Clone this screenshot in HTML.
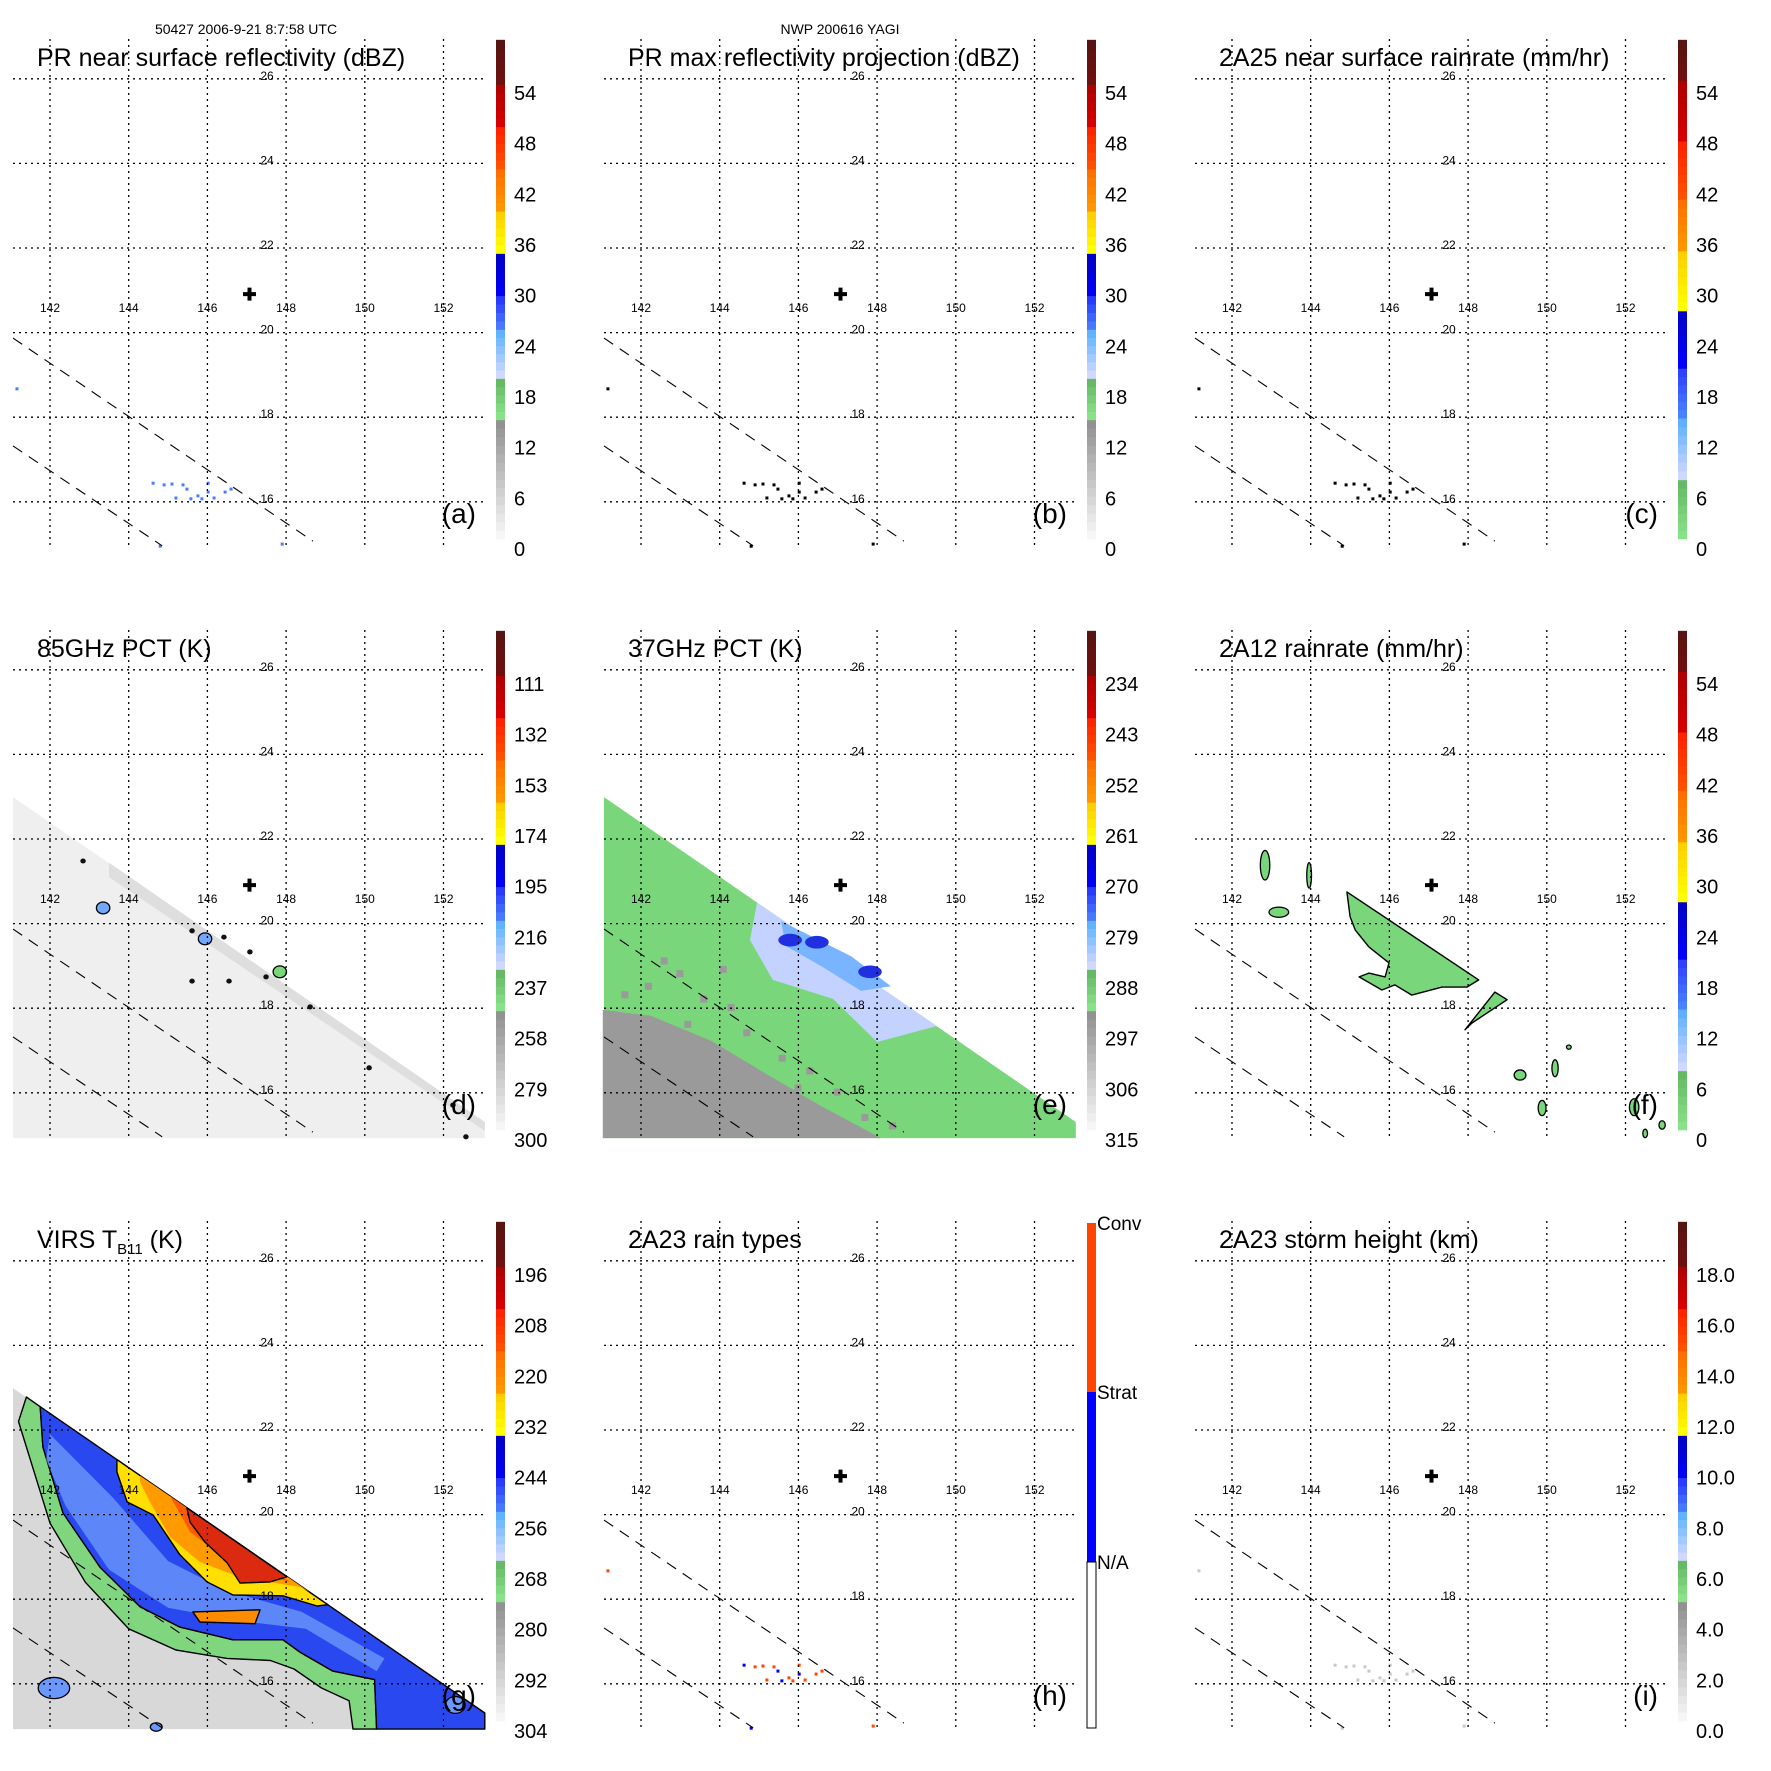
<!DOCTYPE html>
<html><head><meta charset="utf-8">
<style>
html,body{margin:0;padding:0;background:#fff;}
svg{display:block;font-family:"Liberation Sans",Arial,sans-serif;}
</style></head>
<body>
<svg id="fig" width="1771" height="1771" viewBox="0 0 1771 1771" xmlns="http://www.w3.org/2000/svg">
<rect x="0" y="0" width="1771" height="1771" fill="#fff"/>
<text x="246" y="34" font-size="14" text-anchor="middle">50427 2006-9-21 8:7:58 UTC</text>
<text x="840" y="34" font-size="14" text-anchor="middle">NWP 200616 YAGI</text>
</svg>
<script>
// ---- axis tick data ----
const lonTicks = [142,144,146,148,150,152];
const latTicks = [26,24,22,20,18,16];
const stormCenter = [147.07, 20.91];
// swath dashed lines [lon1,lat1,lon2,lat2]
const swathLine1 = [141.06,19.87,148.68,15.07];
const swathLine2 = [141.06,17.32,144.85,14.96];
// microwave swath boundary polygon (lon,lat)
const swathPoly = [[141.06,22.99],[153.05,15.31],[153.05,14.93],[141.06,14.93]];
// colorbar tick positions (value units) and labels
const cbTickPos = [54,48,42,36,30,24,18,12,6,0];
const cbLabelsA = ['54','48','42','36','30','24','18','12','6','0'];
const cbLabelsD = ['111','132','153','174','195','216','237','258','279','300'];
const cbLabelsE = ['234','243','252','261','270','279','288','297','306','315'];
const cbLabelsG = ['196','208','220','232','244','256','268','280','292','304'];
const cbLabelsI = ['18.0','16.0','14.0','12.0','10.0','8.0','6.0','4.0','2.0','0.0'];
const rainTypeLabels = ['Conv','Strat','N/A'];
const panelTitles = ['PR near surface reflectivity (dBZ)','PR max reflectivity projection (dBZ)','2A25 near surface rainrate (mm/hr)','85GHz PCT (K)','37GHz PCT (K)','2A12 rainrate (mm/hr)','VIRS','2A23 rain types','2A23 storm height (km)'];
const panelLetters = ['(a)','(b)','(c)','(d)','(e)','(f)','(g)','(h)','(i)'];
// PR rain pixels (lon,lat)
const prRainPix = [[144.62,16.44],[144.90,16.40],[145.10,16.42],[145.38,16.40],[145.48,16.30],[145.20,16.09],[145.76,16.14],[146.02,16.44],[146.02,16.23],[146.17,16.09],[146.45,16.23],[146.60,16.30],[145.58,16.07],[145.86,16.07],[141.16,18.67],[147.90,15.00],[144.80,14.95]];
// 85GHz cold spots (lon,lat)
const pct85Spots = [[142.84,21.48],[143.35,20.37],[145.61,19.83],[145.94,19.64],[146.42,19.68],[147.08,19.33],[147.84,18.86],[147.49,18.74],[145.61,18.64],[146.55,18.64],[148.61,18.03],[150.11,16.59],[152.24,15.71],[152.57,14.96]];
// 37GHz regions
const pct37Warm = [[141.03,17.96],[142.25,17.82],[143.78,17.23],[145.05,16.52],[146.57,15.69],[148.10,14.93],[141.03,14.93]];
const pct37Light = [[144.95,20.50],[149.52,17.58],[148.0,17.20],[146.88,18.22],[145.35,18.67],[144.77,19.61]];
const pct37Mid = [[145.56,20.06],[147.34,19.23],[148.35,18.52],[147.59,18.41],[146.57,19.00],[145.68,19.47]];
const pct37Cold = [[145.79,19.61],[146.47,19.56],[147.82,18.86]];
const pct37Speck = [[142.1,18.6],[142.9,18.9],[143.5,18.3],[144.2,18.1],[141.5,18.4],[143.1,17.7],[144.6,17.5],[145.5,16.9],[146.2,16.6],[146.9,16.1],[147.6,15.5],[148.3,15.3],[145.9,16.2],[147.1,15.2],[142.5,19.2],[144.0,19.0]];
// 2A12 rain areas
const rr12Main = [[144.92,20.75],[148.27,18.67],[147.97,18.50],[147.34,18.50],[146.57,18.31],[146.14,18.55],[145.81,18.43],[145.23,18.74],[145.48,18.83],[145.89,18.74],[145.99,19.07],[145.48,19.45],[145.13,19.85],[145.0,20.16]];
const rr12Band = [[147.92,17.49],[148.68,18.38],[148.99,18.20],[148.10,17.65]];
// blobs: lon, lat, half-width (deg lon), half-height (deg lat)
const rr12Blobs = [[142.84,21.38,0.12,0.35],[143.19,20.27,0.25,0.12],[143.96,21.14,0.06,0.3],[149.32,16.42,0.15,0.12],[150.21,16.58,0.08,0.2],[149.88,15.64,0.1,0.18],[152.22,15.66,0.12,0.2],[152.50,15.04,0.06,0.1],[152.93,15.24,0.08,0.1],[150.56,17.08,0.06,0.05]];
// VIRS TB11 regions
const virsBlue = [[141.75,22.55],[143.70,21.30],[149.06,17.87],[153.05,15.31],[153.05,14.93],[150.30,14.93],[150.25,16.1],[149.19,16.30],[148.35,16.75],[147.92,17.04],[146.65,17.04],[145.30,17.34],[144.29,17.82],[143.27,18.76],[142.33,20.04],[141.82,21.60]];
const virsGreen = [[141.4,22.78],[141.75,22.55],[141.82,21.60],[142.33,20.04],[143.27,18.76],[144.29,17.82],[145.30,17.34],[146.65,17.04],[147.92,17.04],[148.35,16.75],[149.19,16.30],[150.25,16.1],[150.30,14.93],[149.7,14.93],[149.6,15.6],[148.9,15.9],[148.2,16.35],[147.6,16.55],[146.5,16.6],[145.2,16.8],[144.0,17.3],[142.9,18.4],[142.0,19.8],[141.5,21.3],[141.2,22.2]];
const virsLightBlue = [[142.0,21.9],[143.6,20.4],[145.0,18.9],[146.5,18.2],[148.4,17.7],[150.5,16.6],[150.3,16.3],[148.5,17.3],[146.7,17.5],[145.0,17.8],[143.5,18.7],[142.4,20.2],[141.9,21.3]];
const virsYellow = [[143.70,21.30],[149.06,17.87],[148.79,17.84],[147.92,18.08],[146.65,18.10],[145.99,18.41],[145.30,19.05],[144.62,19.99],[143.96,20.30],[143.70,21.01]];
const virsOrange = [[144.29,20.92],[148.61,18.16],[148.35,18.29],[146.83,18.52],[145.81,18.88],[145.05,19.47],[144.54,20.30],[144.29,20.77]];
const virsOrangeRed = [[145.05,20.44],[148.10,18.40],[147.72,18.52],[146.57,18.88],[145.56,19.59]];
const virsRed = [[145.48,20.16],[148.02,18.53],[147.59,18.41],[146.83,18.38],[146.50,18.86],[145.94,19.35],[145.56,19.82]];
const virsConvCells = [[145.63,17.70],[147.34,17.75],[147.21,17.42],[145.81,17.46]];
const virsLowBlue = [[142.1,15.9,0.4,0.25],[144.7,14.98,0.15,0.1],[152.3,15.5,0.25,0.2]];
</script>
<script>
const NS='http://www.w3.org/2000/svg';
const svg=document.getElementById('fig');
function el(tag,attrs,parent){const e=document.createElementNS(NS,tag);for(const k in attrs)e.setAttribute(k,attrs[k]);(parent||svg).appendChild(e);return e;}
function xOf(lon){return 50+(lon-142)*39.35;}
function yOf(lat){return 78.8+(26-lat)*42.3;}
function vY(v){return 549-v*8.444;}
function pts(arr){return arr.map(p=>xOf(p[0]).toFixed(1)+','+yOf(p[1]).toFixed(1)).join(' ');}
function hex(c){return '#'+c.map(v=>Math.round(v).toString(16).padStart(2,'0')).join('');}
function lerp(a,b,t){return [0,1,2].map(i=>a[i]+(b[i]-a[i])*t);}
const schemeA=[[1.2,15.3,[246,246,246],[146,146,146]],[15.3,20.2,[136,226,136],[102,186,102]],[20.2,26,[208,216,255],[96,180,255]],[26,30,[72,120,255],[40,60,255]],[30,35,[0,0,245],[0,0,200]],[35,40,[255,255,0],[255,208,0]],[40,45,[255,150,0],[255,112,0]],[45,50,[255,80,0],[255,36,0]],[50,55,[214,0,0],[176,0,0]],[55,60.3,[110,16,16],[88,20,16]]];
const schemeC=[[1.2,8.2,[136,226,136],[102,186,102]],[8.2,15.5,[208,216,255],[96,176,255]],[15.5,21.4,[72,130,255],[48,64,255]],[21.4,28.2,[0,0,255],[0,0,200]],[28.2,35.3,[255,255,0],[255,208,0]],[35.3,41.4,[255,150,0],[255,112,0]],[41.4,48.3,[255,80,0],[255,36,0]],[48.3,55.5,[214,0,0],[176,0,0]],[55.5,60.3,[110,16,16],[88,20,16]]];

const panels=[
 {k:'a',labels:cbLabelsA,scheme:schemeA},{k:'b',labels:cbLabelsA,scheme:schemeA},{k:'c',labels:cbLabelsA,scheme:schemeC},
 {k:'d',labels:cbLabelsD,scheme:schemeA},{k:'e',labels:cbLabelsE,scheme:schemeA},{k:'f',labels:cbLabelsA,scheme:schemeC},
 {k:'g',labels:cbLabelsG,scheme:schemeA},{k:'h',labels:null,scheme:null},{k:'i',labels:cbLabelsI,scheme:schemeA}];

function blob(g,b,fill,stroke){
  const e=el('ellipse',{cx:xOf(b[0]),cy:yOf(b[1]),rx:Math.max(1.5,b[2]*39.35),ry:Math.max(1.5,b[3]*42.3),fill:fill,stroke:stroke||'none','stroke-width':1.3},g);
  
  
}
function poly(g,arr,fill,stroke,name){
  const e=el('polygon',{points:pts(arr),fill:fill,stroke:stroke||'none','stroke-width':1.4,'stroke-linejoin':'round'},g);
  
  
}

panels.forEach((p,i)=>{
  const ox=(i%3)*591, oy=Math.floor(i/3)*591;
  const g=el('g',{transform:`translate(${ox},${oy})`});
  
  
  const dg=el('g',{},g);
  
  
  if(p.k==='d'){
    poly(dg,swathPoly,'#efefef',null,'swath-85ghz');
    const grad=el('polygon',{points:pts([[143.5,21.44],[153.05,15.31],[153.05,15.1],[143.5,21.1]]),fill:'#dedede'},dg);
    
    
    pct85Spots.forEach((s,j)=>{
      const big=(j===1||j===3||j===6);
      blob(dg,[s[0],s[1],big?0.17:0.07,big?0.14:0.06],j===6?'#78d878':(big?'#70a8ff':'#111'),big?'#000':null);
    });
  }
  if(p.k==='e'){
    poly(dg,swathPoly,'#7ad67a',null,'swath-37ghz');
    poly(dg,pct37Warm,'#9a9a9a',null,'warm-region');
    pct37Speck.forEach(s=>{const r=el('rect',{x:xOf(s[0]),y:yOf(s[1]),width:7,height:7,fill:'#9a9a9a'},dg);});
    poly(dg,pct37Light,'#c4d2ff',null,'scattering-region');
    poly(dg,pct37Mid,'#78b4ff',null,'scattering-core');
    pct37Cold.forEach(s=>blob(dg,[s[0],s[1],0.3,0.15],'#2030e0'));
  }
  if(p.k==='f'){
    poly(dg,rr12Main,'#7ad67a','#000','rain-area-main');
    poly(dg,rr12Band,'#7ad67a','#000','rain-band');
    rr12Blobs.forEach(b=>blob(dg,b,'#7ad67a','#000'));
  }
  if(p.k==='g'){
    poly(dg,swathPoly,'#d8d8d8',null,'swath-virs');
    poly(dg,virsGreen,'#7fd67f','#000','cloud-edge');
    poly(dg,virsBlue,'#2a48f0','#000','cold-cloud-band');
    const lb=el('polygon',{points:pts(virsLightBlue),fill:'#80b0ff',opacity:0.6},dg);
    
    
    poly(dg,virsYellow,'#ffdf00','#000','cold-top-yellow');
    poly(dg,virsOrange,'#ff9a00',null,'cold-top-orange');
    poly(dg,virsOrangeRed,'#ff5a00',null,'cold-top-orangered');
    poly(dg,virsRed,'#dc2a10','#000','cold-top-red');
    poly(dg,virsConvCells,'#ff8c00','#000','convective-cells');
    virsLowBlue.forEach(b=>blob(dg,b,'#6a98ff','#000'));
  }
  if('abchi'.includes(p.k)){
    const col={a:'#4a7cff',b:'#000',c:'#000',h:'#ff4500',i:'#c8c8c8'}[p.k];
    prRainPix.forEach((s,j)=>{
      const r=el('rect',{x:xOf(s[0])-1.5,y:yOf(s[1])-1.5,width:3,height:3,fill:(p.k==='h'&&j%4===0)?'#0000ff':col},dg);
      
      
    });
  }
  const gg=el('g',{stroke:'#000','stroke-width':1.3,'stroke-dasharray':'2 4',fill:'none'},g);
  
  
  latTicks.forEach(l=>{const e=el('line',{x1:13,x2:486,y1:yOf(l),y2:yOf(l)},gg);});
  lonTicks.forEach(l=>{const e=el('line',{x1:xOf(l),x2:xOf(l),y1:39,y2:549},gg);});
  [swathLine1,swathLine2].forEach(s=>{
    const e=el('line',{x1:xOf(s[0]),y1:yOf(s[1]),x2:xOf(s[2]),y2:yOf(s[3]),stroke:'#000','stroke-width':1.1,'stroke-dasharray':'11 8'},g);
    
    
  });
  latTicks.forEach(l=>{const t=el('text',{x:267,y:yOf(l)+1,'font-size':12,'text-anchor':'middle'},g);t.textContent=l;});
  lonTicks.forEach(l=>{const t=el('text',{x:xOf(l),y:312,'font-size':12,'text-anchor':'middle'},g);t.textContent=l;});
  const cx=xOf(stormCenter[0]),cy=yOf(stormCenter[1]);
  const cr=el('path',{d:`M${cx-6.5},${cy}H${cx+6.5}M${cx},${cy-6.5}V${cy+6.5}`,stroke:'#000','stroke-width':4},g);
  
  
  const tt=el('text',{x:37,y:66,'font-size':25},g);
  
  
  if(p.k==='g'){
    tt.textContent='VIRS T';
    const s=el('tspan',{'font-size':15,dy:6},tt);s.textContent='B11';
    const s2=el('tspan',{dy:-6},tt);s2.textContent=' (K)';
  } else tt.textContent=panelTitles[i];
  const lt=el('text',{x:476,y:523,'font-size':28,'text-anchor':'end'},g);
  lt.textContent=panelLetters[i];
  
  
  const cb=el('g',{},g);
  
  
  if(p.scheme){
    p.scheme.forEach(seg=>{
      const n=Math.max(1,Math.round(seg[1]-seg[0]));
      for(let s=0;s<n;s++){
        const v0=seg[0]+(seg[1]-seg[0])*s/n, v1=seg[0]+(seg[1]-seg[0])*(s+1)/n;
        const r=el('rect',{x:496,y:vY(v1),width:9,height:vY(v0)-vY(v1)+0.4,fill:hex(lerp(seg[2],seg[3],n>1?s/(n-1):0))},cb);
        
        
      }
    });
    cbTickPos.forEach((v,j)=>{
      const t=el('text',{x:514,y:vY(v)+7,'font-size':20},cb);
      t.textContent=p.labels[j];
      
      
    });
  } else {
    const segs=[[41,210,'#ff4500'],[210,380,'#0000ff'],[380,546,'#ffffff']];
    segs.forEach((s,j)=>{
      const r=el('rect',{x:496,y:s[0],width:9,height:s[1]-s[0],fill:s[2],stroke:j===2?'#000':'none','stroke-width':1},cb);
      
      
      const t=el('text',{x:506,y:s[0]+7,'font-size':19},cb);
      t.textContent=rainTypeLabels[j];
      
      
    });
  }
});
</script>
</body></html>
